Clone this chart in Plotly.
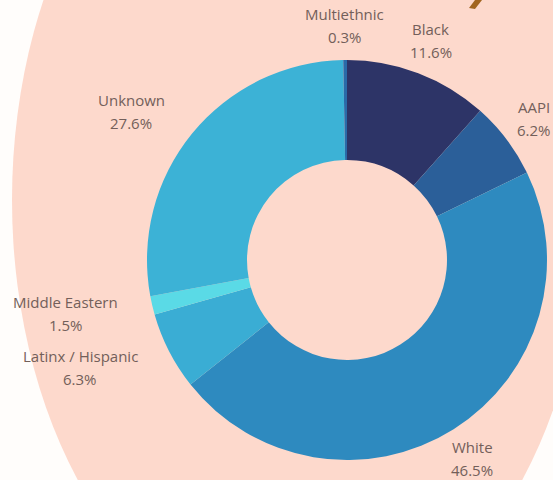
import math
import plotly.graph_objects as go

# Share of people by race / ethnicity, clockwise from 12 o'clock
groups = ["Black", "AAPI", "White", "Latinx / Hispanic", "Middle Eastern", "Unknown", "Multiethnic"]
shares = [11.6, 6.2, 46.5, 6.3, 1.5, 27.6, 0.3]
slice_colors = ["#2D3467", "#2B5F99", "#2E8ABF", "#3AADD4", "#5ADAE6", "#3CB2D6", "#2A6BA8"]

W, H = 553, 480
PEACH = "#FDD9CC"
TEXT = "#735F5A"
FONT = "Open Sans"
FONT_SIZE = 15

# approximate Open Sans advance widths (em) used to centre two-line labels
_ADV = {
    "a": .556, "b": .613, "c": .476, "d": .613, "e": .561, "f": .336, "g": .54,
    "h": .615, "i": .258, "j": .258, "k": .522, "l": .258, "m": .935, "n": .615,
    "o": .604, "p": .613, "r": .408, "s": .477, "t": .353, "u": .615, "w": .798,
    "x": .519, "y": .50, "A": .633, "B": .647, "E": .56, "H": .74, "I": .291,
    "L": .502, "M": .89, "P": .603, "U": .738, "W": .925, ".": .266, "%": .823,
    "/": .368, " ": .26,
}


def text_width(s, size=FONT_SIZE):
    return size * sum(_ADV.get(ch, .572) for ch in s)


# ring geometry in pixels
CX, CY, RADIUS = 347, 260, 200
dom_x = [(CX - RADIUS) / W, (CX + RADIUS) / W]
dom_y = [1 - (CY + RADIUS) / H, 1 - (CY - RADIUS) / H]

fig = go.Figure(
    go.Pie(
        labels=groups,
        values=shares,
        sort=False,
        direction="clockwise",
        rotation=0,
        hole=0.5,
        marker=dict(colors=slice_colors, line=dict(width=0)),
        textinfo="none",
        showlegend=False,
        hoverinfo="label+percent",
        domain=dict(x=dom_x, y=dom_y),
    )
)

# outside labels: name over percentage, placed along each slice's mid-angle;
# labels on the left half hang off to the left of their anchor point
total = sum(shares)
label_r = RADIUS * 1.175
line_gap = 11.5
running = 0.0
for name, val in zip(groups, shares):
    mid = (running + val / 2) / total
    running += val
    theta = 2 * math.pi * mid
    sx, cyv = math.sin(theta), math.cos(theta)
    px = CX + label_r * sx
    py = CY - label_r * cyv
    pct = f"{100 * val / total:.1f}%"
    if sx < -0.2:
        block = max(text_width(name), text_width(pct))
        px -= block / 2
    for txt, shift in ((name, line_gap), (pct, -line_gap)):
        fig.add_annotation(
            x=px / W, y=1 - py / H, xref="paper", yref="paper",
            text=txt, showarrow=False,
            xanchor="center", yanchor="middle", align="center",
            yshift=shift,
            font=dict(family=FONT, size=FONT_SIZE, color=TEXT),
        )

# soft peach backdrop behind the ring
fig.add_shape(
    type="circle", xref="paper", yref="paper",
    x0=12 / W, x1=588 / W, y0=1 - 640 / H, y1=1 - (-240) / H,
    fillcolor=PEACH, line=dict(width=0), layer="below",
)
# tail of the heading lettering peeking in at the top
fig.add_shape(
    type="path", xref="paper", yref="paper",
    path=f"M {482 / W} 1 L {475 / W} {1 - 9 / H} L {469 / W} {1 - 8 / H} L {475 / W} 1 Z",
    fillcolor="#A2651F", line=dict(width=0), layer="below",
)

fig.update_layout(
    width=W, height=H,
    margin=dict(l=0, r=0, t=0, b=0),
    paper_bgcolor="#FFFDFB",
    plot_bgcolor="#FFFDFB",
    font=dict(family=FONT, color=TEXT),
)

fig.write_html("out.html")
